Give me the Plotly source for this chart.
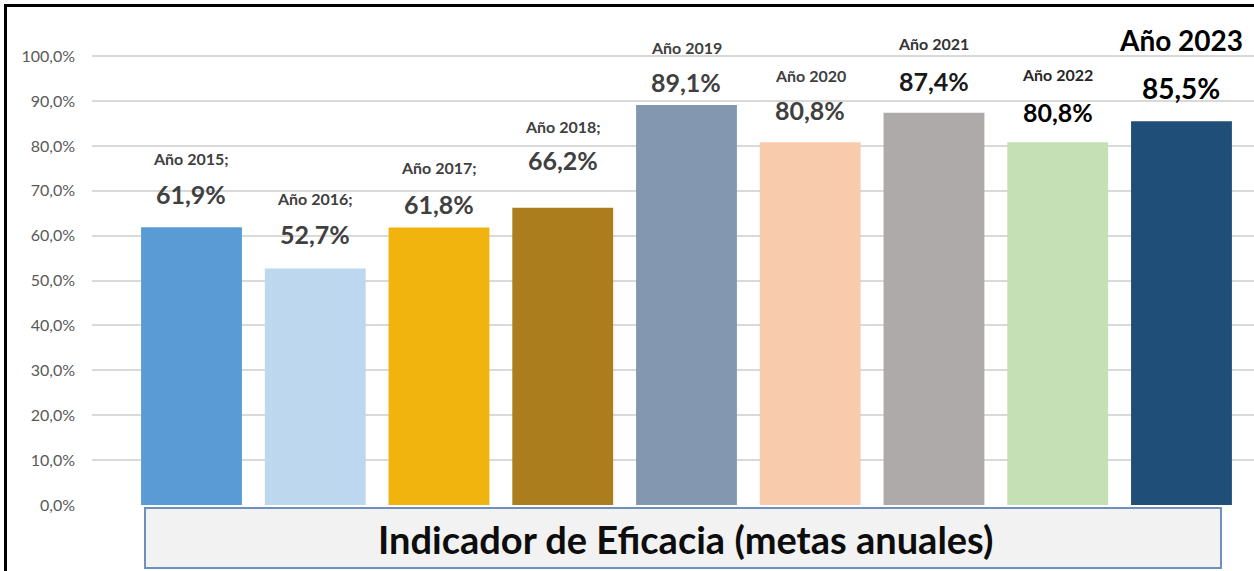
import plotly.graph_objects as go

# ---- data ----
years = ["2015", "2016", "2017", "2018", "2019", "2020", "2021", "2022", "2023"]
values = [0.619, 0.527, 0.618, 0.662, 0.891, 0.808, 0.874, 0.808, 0.855]
year_labels = ["Año 2015;", "Año 2016;", "Año 2017;", "Año 2018;", "Año 2019",
               "Año 2020", "Año 2021", "Año 2022", "Año 2023"]
y_ticks = [0.0, 0.1, 0.2, 0.3, 0.4, 0.5, 0.6, 0.7, 0.8, 0.9, 1.0]
title_text = "Indicador de Eficacia (metas anuales)"

# ---- styles ----
bar_colors = ["#5b9bd5", "#bdd7ee", "#f1b30e", "#ab7d1c", "#8497b0",
              "#f8cbad", "#aeaaaa", "#c5e0b4", "#1f4e79"]
name_colors = ["#404040"] * 6 + ["#333333", "#262626", "#000000"]
value_colors = ["#404040"] * 6 + ["#1a1a1a", "#000000", "#000000"]
name_sizes = [16] * 8 + [28]
value_sizes = [25] * 6 + [25, 25, 28]
# label positions (data units) as placed in the original chart
name_y = [0.771, 0.682, 0.751, 0.844, 1.020, 0.958, 1.029, 0.960, 1.036]
value_y = [0.693, 0.604, 0.670, 0.768, 0.942, 0.880, 0.944, 0.875, 0.929]

FONT = "Lato"
xpos = list(range(len(years)))

fig = go.Figure()
fig.add_trace(go.Bar(
    x=xpos, y=values, width=0.815,
    marker=dict(color=bar_colors, line=dict(width=0)),
    hoverinfo="skip",
))

annotations = []
for i, v in enumerate(values):
    annotations.append(dict(
        x=xpos[i], y=name_y[i], xref="x", yref="y", text=f"<b>{year_labels[i]}</b>",
        showarrow=False, xanchor="center", yanchor="middle",
        font=dict(family=FONT, size=name_sizes[i], color=name_colors[i]),
    ))
    annotations.append(dict(
        x=xpos[i], y=value_y[i], xref="x", yref="y",
        text="<b>" + f"{v*100:.1f}%".replace(".", ",") + "</b>",
        showarrow=False, xanchor="center", yanchor="middle",
        font=dict(family=FONT, size=value_sizes[i], color=value_colors[i]),
    ))

# title box below the plot
annotations.append(dict(
    x=(685 - 92) / 1162, y=(505 - 539) / 500, xref="paper", yref="paper",
    text=f"<b>{title_text}</b>", showarrow=False, xanchor="center", yanchor="middle",
    font=dict(family=FONT, size=38, color="#0d0d0d"),
))

shapes = [
    dict(type="rect", xref="paper", yref="paper",
         x0=(145 - 92) / 1162, x1=(1221 - 92) / 1162,
         y0=(505 - 508) / 500, y1=(505 - 568) / 500,
         fillcolor="#f2f2f2", line=dict(color="#6f8fbd", width=2), layer="above"),
    # outer black frame (left & top)
    dict(type="line", xref="paper", yref="paper",
         x0=(5.5 - 92) / 1162, x1=(5.5 - 92) / 1162, y0=(505 - 4) / 500, y1=(505 - 580) / 500,
         line=dict(color="#000000", width=3)),
    dict(type="line", xref="paper", yref="paper",
         x0=(4 - 92) / 1162, x1=(1260 - 92) / 1162, y0=(505 - 5.5) / 500, y1=(505 - 5.5) / 500,
         line=dict(color="#000000", width=3)),
]

fig.update_layout(
    width=1254, height=571,
    margin=dict(l=92, r=0, t=5, b=66),
    paper_bgcolor="#ffffff", plot_bgcolor="#ffffff",
    separators=",.",
    showlegend=False,
    xaxis=dict(range=[-0.804, 8.586], showticklabels=False, showgrid=False,
               zeroline=False, showline=False, fixedrange=True),
    yaxis=dict(range=[0, 1.114], tickvals=y_ticks, tickformat=".1%",
               showgrid=True, gridcolor="#d9d9d9", gridwidth=2,
               zeroline=False, showline=False, ticks="",
               ticklabelstandoff=16,
               tickfont=dict(family=FONT, size=16, color="#595959")),
    annotations=annotations,
    shapes=shapes,
)

fig.write_html(
    "out.html",
    config={"displayModeBar": False},
    post_script="document.body.style.margin='0';document.body.style.overflow='hidden';",
)
